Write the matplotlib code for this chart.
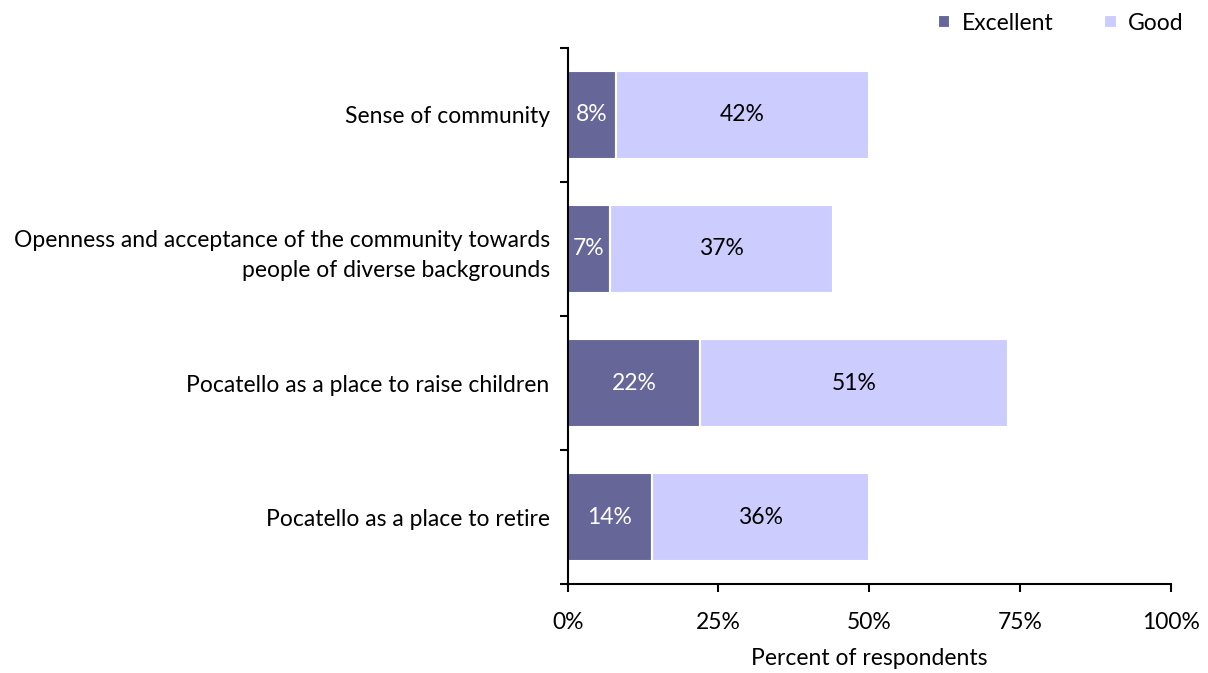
import numpy as np
import matplotlib.pyplot as plt

categories = ["Sense of community",
              "Openness and acceptance of the community towards\npeople of diverse backgrounds",
              "Pocatello as a place to raise children",
              "Pocatello as a place to retire"]
excellent = [8, 7, 22, 14]
good = [42, 37, 51, 36]
xticks = [0, 25, 50, 75, 100]

plt.rcParams['font.family'] = ['Lato', 'DejaVu Sans']
fs = 16.5

fig = plt.figure(figsize=(12.08, 6.73), dpi=100)
ax = fig.add_axes([0.470, 0.132, 0.499, 0.797])

n = len(categories)
y = np.arange(n)[::-1] + 0.5   # top category first
h = 0.66

b1 = ax.barh(y, excellent, height=h, color='#666699', edgecolor='white', linewidth=1.5, label='Excellent')
b2 = ax.barh(y, good, left=excellent, height=h, color='#CCCCFF', edgecolor='white', linewidth=1.5, label='Good')

for yi, e, g in zip(y, excellent, good):
    ax.text(e / 2, yi, f"{e}%", ha='center', va='center', color='white', fontsize=fs)
    ax.text(e + g / 2, yi, f"{g}%", ha='center', va='center', color='black', fontsize=fs)

ax.set_xlim(0, 100)
ax.set_ylim(0, n)
ax.set_xticks(xticks)
ax.set_xticklabels([f"{t}%" for t in xticks], fontsize=fs)
ax.set_xlabel("Percent of respondents", fontsize=fs, labelpad=11)

ax.set_yticks(np.arange(n + 1))
ax.set_yticklabels([])
ax.set_yticks(y, minor=True)
ax.set_yticklabels(categories, minor=True, fontsize=fs, ha='right', linespacing=1.55)
ax.tick_params(axis='y', which='minor', length=0, pad=13)
ax.tick_params(axis='y', which='major', length=6, width=1.5, direction='out')
ax.tick_params(axis='x', length=6, width=1.5, direction='out', pad=14)

for s in ['top', 'right']:
    ax.spines[s].set_visible(False)
for s in ['left', 'bottom']:
    ax.spines[s].set_linewidth(1.5)

fig.legend(handles=[b1, b2], loc='upper right', bbox_to_anchor=(0.997, 1.012), ncol=2,
           frameon=False, fontsize=fs, handlelength=0.55, handleheight=0.55,
           handletextpad=0.5, columnspacing=2.2)

fig.savefig("out.png", dpi=100)
